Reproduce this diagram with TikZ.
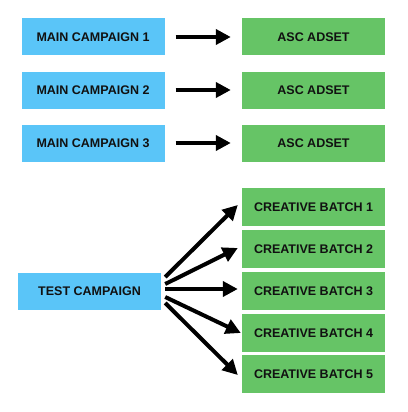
\documentclass[tikz,border=0pt]{standalone}
\usepackage{fontspec}
\setmainfont{Liberation Sans}
\definecolor{BleuCampagne}{HTML}{5AC5F8}
\definecolor{VertAdset}{HTML}{66C466}
\definecolor{NoirTexte}{HTML}{111111}
\usetikzlibrary{arrows.meta}
\tikzset{
	campagne/.style={fill=BleuCampagne, text=NoirTexte, minimum width=143pt, minimum height=37pt, inner sep=0pt,
		font=\fontsize{12.5}{14}\selectfont\bfseries},
	adset/.style={campagne, fill=VertAdset},
	fleche/.style={-{Triangle[length=15pt,width=15pt]}, line width=4pt}
}

\begin{document}
\begin{tikzpicture}[x=1pt,y=-1pt]
	\useasboundingbox (0,0) rectangle (407,412);
	%
	% Campagnes principales
	\foreach \i/\y in {1/37,2/90,3/143}{
		\node[campagne] at (93,\y) (MC\i){MAIN CAMPAIGN \i};
		\node[adset] at (313.5,\y) (ASC\i){ASC ADSET};
		\draw[fleche, shorten <=11pt, shorten >=11pt] (MC\i) -- (ASC\i);
	}
	%
	% Campagne de test
	\node[campagne] at (89.5,291) (TC){TEST CAMPAIGN};
	\foreach \i/\y in {1/207,2/249,3/291,4/333,5/374}{
		\node[adset, minimum height=37.5pt] at (313.5,\y) (CB\i){CREATIVE BATCH \i};
	}
	%
	\foreach \i/\d/\e/\f in {1/14/-4/2,2/7/-4/1,3/2/-4/2,4/-6/-1/0,5/-12/-4/-1}{
		\draw[fleche] ([xshift=4pt,yshift=\d pt]TC.east) -- ([xshift=\e pt,yshift=\f pt]CB\i.west);
	}
	%
\end{tikzpicture}
\end{document}
